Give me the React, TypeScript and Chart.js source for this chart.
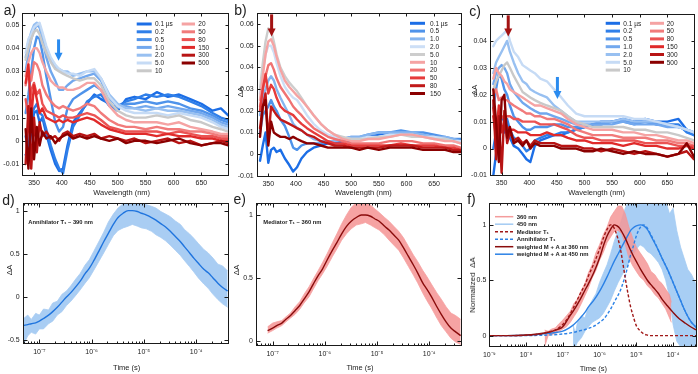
import React, { useEffect, useRef } from 'react';
import { Chart, registerables } from 'chart.js';

Chart.register(...registerables);

const FONT = "'Liberation Sans', Arial, Helvetica, sans-serif";

// ---------------- spectra data (panels a, b, c) ----------------
const WL = [335, 340, 345, 350, 355, 360, 365, 372, 380, 388, 395, 402, 410, 420, 432, 445, 458, 470, 485, 500, 515, 530, 550, 570, 590, 610, 630, 650, 670, 685, 698];
const WL_TICKS = [350, 400, 450, 500, 550, 600, 650];

const A_LABELS = ['0.1 µs', '0.2', '0.5', '1.0', '2.0', '5.0', '10', '20', '50', '80', '150', '300', '500'];
const a01 = [-0.006, -0.008, 0.004, 0.012, 0.013, 0.008, 0.010, 0.003, -0.004, -0.010, -0.013, -0.012, -0.002, 0.008, 0.012, 0.016, 0.020, 0.018, 0.016, 0.013, 0.018, 0.019, 0.018, 0.021, 0.019, 0.020, 0.018, 0.016, 0.013, 0.014, 0.011];
const a02 = [0.002, -0.004, 0.010, 0.014, 0.016, 0.012, 0.011, 0.005, -0.002, -0.008, -0.012, -0.014, -0.004, 0.006, 0.011, 0.017, 0.019, 0.020, 0.015, 0.015, 0.017, 0.018, 0.020, 0.019, 0.020, 0.019, 0.017, 0.015, 0.012, 0.010, 0.009];
const a05 = [0.012, 0.020, 0.030, 0.040, 0.045, 0.044, 0.038, 0.028, 0.018, 0.008, 0.004, 0.006, 0.014, 0.018, 0.020, 0.022, 0.024, 0.022, 0.016, 0.014, 0.016, 0.016, 0.017, 0.016, 0.017, 0.016, 0.014, 0.013, 0.011, 0.009, 0.008];
const a1 = [0.030, 0.038, 0.044, 0.048, 0.050, 0.049, 0.044, 0.036, 0.030, 0.026, 0.022, 0.022, 0.024, 0.026, 0.027, 0.028, 0.029, 0.026, 0.018, 0.015, 0.015, 0.014, 0.015, 0.014, 0.015, 0.014, 0.013, 0.012, 0.010, 0.008, 0.007];
const a2 = [0.036, 0.043, 0.047, 0.050, 0.051, 0.050, 0.046, 0.040, 0.035, 0.032, 0.031, 0.030, 0.030, 0.028, 0.029, 0.030, 0.030, 0.027, 0.020, 0.016, 0.014, 0.014, 0.013, 0.014, 0.013, 0.013, 0.012, 0.011, 0.009, 0.007, 0.006];
const a5 = [0.038, 0.044, 0.046, 0.049, 0.050, 0.051, 0.047, 0.041, 0.036, 0.033, 0.031, 0.030, 0.029, 0.029, 0.028, 0.030, 0.031, 0.027, 0.019, 0.015, 0.013, 0.012, 0.012, 0.012, 0.011, 0.012, 0.011, 0.010, 0.008, 0.006, 0.005];
const a10 = [0.035, 0.040, 0.044, 0.047, 0.048, 0.046, 0.042, 0.038, 0.034, 0.031, 0.030, 0.029, 0.028, 0.027, 0.026, 0.027, 0.027, 0.024, 0.017, 0.013, 0.011, 0.010, 0.010, 0.011, 0.010, 0.011, 0.009, 0.008, 0.006, 0.005, 0.004];
const a20 = [0.028, 0.034, 0.038, 0.040, 0.040, 0.038, 0.034, 0.030, 0.026, 0.024, 0.023, 0.023, 0.022, 0.022, 0.023, 0.025, 0.025, 0.022, 0.015, 0.011, 0.009, 0.008, 0.008, 0.008, 0.007, 0.008, 0.006, 0.005, 0.004, 0.003, 0.003];
const a50 = [0.024, 0.030, 0.026, 0.034, 0.033, 0.030, 0.024, 0.020, 0.017, 0.015, 0.014, 0.015, 0.014, 0.013, 0.014, 0.016, 0.015, 0.012, 0.009, 0.007, 0.006, 0.006, 0.005, 0.006, 0.005, 0.005, 0.004, 0.004, 0.003, 0.002, 0.002];
const a80 = [0.018, 0.010, 0.022, 0.025, 0.020, 0.022, 0.016, 0.013, 0.012, 0.011, 0.010, 0.011, 0.010, 0.010, 0.011, 0.012, 0.011, 0.009, 0.006, 0.005, 0.004, 0.004, 0.004, 0.004, 0.003, 0.004, 0.003, 0.002, 0.002, 0.001, 0.001];
const a150 = [0.025, 0.033, 0.010, 0.024, 0.018, 0.012, 0.014, 0.010, 0.009, 0.008, 0.009, 0.008, 0.009, 0.008, 0.009, 0.010, 0.009, 0.007, 0.005, 0.004, 0.003, 0.003, 0.003, 0.002, 0.003, 0.002, 0.002, 0.001, 0.001, 0.000, 0.000];
const a300 = [-0.010, 0.015, -0.012, 0.010, -0.005, 0.008, 0.002, 0.004, 0.001, 0.002, 0.000, 0.003, 0.004, 0.002, 0.003, 0.002, 0.003, 0.001, 0.002, 0.001, 0.000, 0.001, -0.001, 0.000, 0.001, -0.001, 0.000, -0.002, -0.001, 0.000, -0.001];
const a500 = [0.005, -0.012, 0.014, -0.008, 0.006, -0.002, 0.004, 0.001, 0.002, -0.001, 0.001, 0.002, 0.003, 0.001, 0.002, 0.001, 0.002, 0.001, 0.000, 0.001, -0.001, 0.000, 0.000, -0.001, 0.000, 0.001, -0.001, -0.002, -0.001, -0.001, -0.002];

const B_LABELS = ['0.1 µs', '0.5', '1.0', '2.0', '5.0', '10', '20', '50', '80', '150'];
const b01 = [-0.003, 0.004, 0.010, -0.004, 0.002, 0.003, 0.001, 0.002, -0.002, -0.005, -0.008, -0.006, -0.002, 0.001, 0.003, 0.004, 0.005, 0.005, 0.006, 0.006, 0.007, 0.008, 0.009, 0.010, 0.010, 0.009, 0.008, 0.008, 0.007, 0.006, 0.006];
const b05 = [0.010, 0.018, 0.020, 0.022, 0.025, 0.022, 0.020, 0.016, 0.013, 0.008, 0.003, 0.002, 0.004, 0.005, 0.005, 0.005, 0.006, 0.006, 0.007, 0.008, 0.008, 0.009, 0.010, 0.010, 0.011, 0.010, 0.010, 0.009, 0.008, 0.007, 0.007];
const b1 = [0.018, 0.026, 0.030, 0.034, 0.036, 0.034, 0.030, 0.026, 0.022, 0.018, 0.014, 0.012, 0.011, 0.009, 0.007, 0.006, 0.006, 0.006, 0.007, 0.008, 0.008, 0.009, 0.010, 0.010, 0.010, 0.010, 0.009, 0.008, 0.008, 0.007, 0.006];
const b2 = [0.028, 0.038, 0.046, 0.050, 0.050, 0.047, 0.042, 0.036, 0.031, 0.028, 0.026, 0.025, 0.022, 0.018, 0.014, 0.011, 0.009, 0.008, 0.007, 0.007, 0.007, 0.008, 0.008, 0.009, 0.009, 0.009, 0.008, 0.008, 0.007, 0.006, 0.006];
const b5 = [0.030, 0.042, 0.052, 0.058, 0.057, 0.052, 0.046, 0.040, 0.036, 0.033, 0.031, 0.029, 0.026, 0.022, 0.018, 0.014, 0.011, 0.009, 0.008, 0.007, 0.007, 0.007, 0.008, 0.008, 0.009, 0.008, 0.008, 0.007, 0.007, 0.006, 0.005];
const b10 = [0.025, 0.036, 0.046, 0.052, 0.053, 0.050, 0.045, 0.039, 0.034, 0.031, 0.029, 0.027, 0.025, 0.022, 0.018, 0.014, 0.011, 0.009, 0.007, 0.006, 0.006, 0.007, 0.007, 0.008, 0.009, 0.009, 0.008, 0.007, 0.006, 0.006, 0.005];
const b20 = [0.022, 0.030, 0.036, 0.041, 0.042, 0.039, 0.035, 0.031, 0.028, 0.025, 0.022, 0.020, 0.018, 0.015, 0.012, 0.010, 0.008, 0.007, 0.006, 0.005, 0.005, 0.005, 0.005, 0.006, 0.006, 0.006, 0.005, 0.005, 0.004, 0.004, 0.003];
const b50 = [0.020, 0.030, 0.037, 0.028, 0.032, 0.030, 0.026, 0.022, 0.020, 0.019, 0.018, 0.016, 0.014, 0.012, 0.010, 0.008, 0.006, 0.005, 0.005, 0.004, 0.004, 0.004, 0.004, 0.004, 0.005, 0.004, 0.004, 0.004, 0.003, 0.003, 0.002];
const b80 = [0.012, 0.022, 0.028, 0.006, 0.022, 0.020, 0.018, 0.016, 0.015, 0.014, 0.013, 0.012, 0.011, 0.009, 0.008, 0.006, 0.005, 0.004, 0.004, 0.003, 0.003, 0.003, 0.003, 0.004, 0.004, 0.004, 0.003, 0.003, 0.003, 0.002, 0.002];
const b150 = [0.008, 0.022, 0.025, 0.004, 0.015, 0.010, 0.009, 0.008, 0.008, 0.007, 0.008, 0.007, 0.006, 0.005, 0.005, 0.004, 0.003, 0.003, 0.003, 0.003, 0.002, 0.003, 0.002, 0.003, 0.003, 0.003, 0.002, 0.002, 0.002, 0.001, 0.001];

const C_LABELS = ['0.1 µs', '0.2', '0.5', '1.0', '2.0', '5.0', '10', '20', '50', '80', '150', '300', '500'];
const c01 = [-0.010, -0.002, 0.005, 0.008, 0.006, 0.009, 0.004, 0.001, 0.000, -0.002, -0.004, -0.005, 0.001, 0.003, 0.004, 0.005, 0.005, 0.006, 0.007, 0.008, 0.009, 0.010, 0.010, 0.011, 0.010, 0.011, 0.010, 0.010, 0.011, 0.007, 0.005];
const c02 = [0.000, 0.006, 0.010, 0.012, 0.010, 0.011, 0.007, 0.004, 0.003, 0.001, -0.001, 0.000, 0.003, 0.004, 0.005, 0.005, 0.006, 0.006, 0.007, 0.008, 0.009, 0.009, 0.010, 0.010, 0.010, 0.010, 0.009, 0.009, 0.009, 0.006, 0.005];
const c05 = [0.015, 0.022, 0.028, 0.026, 0.022, 0.020, 0.016, 0.012, 0.010, 0.008, 0.007, 0.007, 0.008, 0.008, 0.008, 0.009, 0.009, 0.008, 0.008, 0.008, 0.009, 0.009, 0.010, 0.010, 0.009, 0.010, 0.009, 0.009, 0.008, 0.007, 0.006];
const c1 = [0.024, 0.028, 0.030, 0.031, 0.030, 0.028, 0.024, 0.021, 0.019, 0.017, 0.016, 0.015, 0.014, 0.013, 0.013, 0.012, 0.011, 0.010, 0.009, 0.009, 0.009, 0.009, 0.009, 0.010, 0.009, 0.009, 0.009, 0.008, 0.008, 0.007, 0.006];
const c2 = [0.028, 0.032, 0.034, 0.036, 0.038, 0.040, 0.036, 0.032, 0.028, 0.025, 0.024, 0.022, 0.021, 0.020, 0.019, 0.016, 0.014, 0.012, 0.010, 0.010, 0.010, 0.010, 0.010, 0.011, 0.010, 0.010, 0.010, 0.009, 0.008, 0.007, 0.006];
const c5 = [0.038, 0.040, 0.041, 0.042, 0.043, 0.044, 0.040, 0.036, 0.034, 0.031, 0.030, 0.029, 0.028, 0.026, 0.025, 0.022, 0.019, 0.016, 0.013, 0.012, 0.012, 0.012, 0.012, 0.012, 0.011, 0.011, 0.010, 0.009, 0.008, 0.007, 0.006];
const c10 = [0.022, 0.025, 0.027, 0.029, 0.031, 0.032, 0.030, 0.027, 0.024, 0.021, 0.020, 0.019, 0.018, 0.017, 0.016, 0.015, 0.014, 0.012, 0.010, 0.009, 0.008, 0.008, 0.008, 0.008, 0.007, 0.007, 0.006, 0.006, 0.005, 0.004, 0.003];
const c20 = [0.026, 0.030, 0.028, 0.027, 0.025, 0.024, 0.022, 0.021, 0.020, 0.019, 0.018, 0.017, 0.016, 0.016, 0.015, 0.014, 0.013, 0.011, 0.009, 0.008, 0.007, 0.007, 0.007, 0.006, 0.006, 0.005, 0.005, 0.004, 0.003, 0.003, 0.002];
const c50 = [0.020, 0.022, 0.018, 0.019, 0.018, 0.018, 0.017, 0.016, 0.015, 0.014, 0.013, 0.013, 0.012, 0.012, 0.011, 0.011, 0.010, 0.009, 0.007, 0.006, 0.005, 0.005, 0.005, 0.004, 0.004, 0.004, 0.003, 0.003, 0.002, 0.002, 0.001];
const c80 = [0.015, 0.008, 0.014, 0.012, 0.011, 0.012, 0.012, 0.011, 0.011, 0.010, 0.010, 0.010, 0.010, 0.009, 0.009, 0.009, 0.008, 0.007, 0.005, 0.004, 0.004, 0.003, 0.003, 0.003, 0.003, 0.002, 0.002, 0.002, 0.001, 0.001, 0.001];
const c150 = [0.012, 0.004, 0.016, 0.006, 0.010, 0.008, 0.007, 0.007, 0.006, 0.006, 0.006, 0.005, 0.005, 0.005, 0.006, 0.005, 0.005, 0.004, 0.003, 0.003, 0.002, 0.002, 0.002, 0.001, 0.002, 0.001, 0.001, 0.000, 0.000, 0.001, 0.000];
const c300 = [0.018, -0.004, 0.012, -0.009, 0.014, 0.002, 0.006, 0.003, 0.004, 0.002, 0.003, 0.001, 0.003, 0.002, 0.002, 0.002, 0.001, 0.001, 0.001, 0.000, 0.000, -0.001, 0.000, -0.001, -0.002, -0.001, -0.002, -0.003, -0.002, -0.001, -0.004];
const c500 = [0.022, 0.010, -0.005, 0.018, 0.020, 0.004, 0.008, 0.002, 0.003, 0.001, 0.003, 0.000, 0.002, 0.001, 0.001, 0.001, 0.000, 0.000, 0.000, -0.001, -0.001, 0.000, -0.001, -0.002, -0.001, -0.002, -0.002, -0.003, -0.002, 0.002, -0.003];

// ---------------- kinetics data (panels d, e, f) ----------------
const dTimes = [5e-8, 6e-8, 7e-8, 8.5e-8, 1e-7, 1.2e-7, 1.5e-7, 1.8e-7, 2.2e-7, 2.7e-7, 3.3e-7, 4e-7, 5e-7, 6e-7, 7.5e-7, 9e-7, 1.1e-6, 1.4e-6, 1.7e-6, 2.1e-6, 2.6e-6, 3.2e-6, 4e-6, 5e-6, 6e-6, 7.5e-6, 9e-6, 1.1e-5, 1.4e-5, 1.7e-5, 2.1e-5, 2.6e-5, 3.2e-5, 4e-5, 5e-5, 6e-5, 7.5e-5, 9e-5, 1.1e-4, 1.4e-4, 1.7e-4, 2.1e-4, 2.6e-4, 3.2e-4, 4e-4];
const dFit = [-0.33, -0.32, -0.31, -0.30, -0.28, -0.25, -0.21, -0.17, -0.12, -0.06, 0.00, 0.05, 0.12, 0.18, 0.27, 0.33, 0.42, 0.54, 0.64, 0.74, 0.84, 0.92, 0.97, 1.00, 1.00, 0.99, 0.97, 0.95, 0.92, 0.89, 0.85, 0.81, 0.76, 0.70, 0.64, 0.58, 0.51, 0.45, 0.39, 0.32, 0.28, 0.22, 0.16, 0.11, 0.07];
const dHigh = [-0.25, -0.21, -0.26, -0.19, -0.21, -0.14, -0.15, -0.07, -0.05, 0.03, 0.07, 0.13, 0.21, 0.27, 0.37, 0.43, 0.53, 0.65, 0.75, 0.87, 0.96, 1.03, 1.08, 1.10, 1.10, 1.09, 1.08, 1.07, 1.05, 1.03, 0.99, 0.96, 0.93, 0.88, 0.84, 0.78, 0.73, 0.68, 0.62, 0.55, 0.51, 0.45, 0.38, 0.36, 0.30];
const dLow = [-0.55, -0.45, -0.41, -0.43, -0.37, -0.37, -0.31, -0.28, -0.21, -0.17, -0.10, -0.05, 0.02, 0.08, 0.16, 0.22, 0.31, 0.42, 0.51, 0.61, 0.71, 0.77, 0.80, 0.82, 0.84, 0.82, 0.80, 0.79, 0.76, 0.72, 0.69, 0.65, 0.60, 0.54, 0.48, 0.42, 0.35, 0.29, 0.22, 0.15, 0.10, 0.03, -0.03, -0.08, -0.12];

const eTimes = [8e-8, 1e-7, 1.2e-7, 1.5e-7, 1.8e-7, 2.2e-7, 2.7e-7, 3.3e-7, 4e-7, 5e-7, 6e-7, 7.5e-7, 9e-7, 1.1e-6, 1.4e-6, 1.7e-6, 2.1e-6, 2.6e-6, 3.2e-6, 4e-6, 5e-6, 6e-6, 7.5e-6, 9e-6, 1.1e-5, 1.4e-5, 1.7e-5, 2.1e-5, 2.6e-5, 3.2e-5, 4e-5, 5e-5, 6e-5, 7.5e-5, 9e-5, 1.1e-4, 1.4e-4, 1.7e-4, 2.1e-4, 2.6e-4, 3.2e-4, 4e-4];
const eFit = [0.08, 0.10, 0.12, 0.14, 0.17, 0.20, 0.24, 0.28, 0.33, 0.39, 0.45, 0.52, 0.57, 0.64, 0.72, 0.78, 0.85, 0.91, 0.95, 0.98, 1.00, 1.00, 0.99, 0.97, 0.95, 0.91, 0.88, 0.84, 0.80, 0.74, 0.67, 0.60, 0.54, 0.46, 0.41, 0.35, 0.27, 0.21, 0.15, 0.10, 0.07, 0.04];
const eHigh = [0.11, 0.14, 0.15, 0.16, 0.19, 0.22, 0.27, 0.31, 0.37, 0.43, 0.49, 0.56, 0.62, 0.69, 0.78, 0.85, 0.93, 1.00, 1.06, 1.10, 1.11, 1.10, 1.08, 1.05, 1.02, 0.98, 0.95, 0.91, 0.87, 0.82, 0.75, 0.68, 0.63, 0.56, 0.51, 0.45, 0.38, 0.33, 0.27, 0.22, 0.20, 0.17];
const eLow = [0.06, 0.08, 0.10, 0.12, 0.15, 0.18, 0.21, 0.25, 0.30, 0.35, 0.41, 0.48, 0.53, 0.59, 0.67, 0.73, 0.80, 0.85, 0.89, 0.92, 0.93, 0.94, 0.92, 0.90, 0.88, 0.84, 0.80, 0.76, 0.72, 0.66, 0.59, 0.52, 0.46, 0.38, 0.32, 0.26, 0.18, 0.12, 0.07, 0.02, -0.01, -0.03];

const fTimes = [1e-9, 3e-9, 1e-8, 2e-8, 4e-8, 7e-8, 1e-7, 1.5e-7, 2e-7, 3e-7, 4e-7, 5e-7, 7e-7, 1e-6, 1.3e-6, 1.6e-6, 2e-6, 2.5e-6, 3e-6, 3.5e-6, 4e-6, 5e-6, 6e-6, 7e-6, 8e-6, 1e-5, 1.3e-5, 1.6e-5, 2e-5, 2.5e-5, 3e-5, 4e-5, 5e-5, 7e-5, 1e-4, 1.5e-4, 2e-4, 3e-4, 4.4e-4];
const fMediator = [0, 0, 0.003, 0.01, 0.03, 0.06, 0.10, 0.18, 0.26, 0.38, 0.46, 0.54, 0.65, 0.78, 0.89, 0.96, 1.00, 0.97, 0.90, 0.82, 0.72, 0.52, 0.37, 0.26, 0.19, 0.09, 0.04, 0.015, 0.005, 0, 0, 0, 0, 0, 0, 0, 0, 0, 0];
const fWeighted360 = [0, 0, 0.005, 0.015, 0.03, 0.055, 0.08, 0.17, 0.23, 0.33, 0.41, 0.47, 0.57, 0.70, 0.82, 0.90, 0.96, 1.00, 0.99, 0.97, 0.94, 0.88, 0.82, 0.77, 0.73, 0.67, 0.60, 0.55, 0.50, 0.46, 0.43, 0.38, 0.33, 0.27, 0.21, 0.15, 0.12, 0.08, 0.05];
const fAnnihilator = [0, 0, 0, 0.002, 0.005, 0.01, 0.015, 0.022, 0.03, 0.045, 0.055, 0.065, 0.085, 0.12, 0.15, 0.19, 0.24, 0.30, 0.35, 0.39, 0.44, 0.54, 0.64, 0.73, 0.79, 0.90, 0.98, 1.00, 0.97, 0.91, 0.86, 0.77, 0.70, 0.60, 0.48, 0.34, 0.24, 0.13, 0.07];
const fWeighted450 = [0, 0, 0.004, 0.01, 0.02, 0.03, 0.04, 0.07, 0.10, 0.16, 0.21, 0.26, 0.32, 0.40, 0.47, 0.53, 0.60, 0.67, 0.72, 0.76, 0.80, 0.86, 0.91, 0.95, 0.97, 0.99, 1.00, 0.99, 0.96, 0.90, 0.85, 0.77, 0.70, 0.60, 0.48, 0.34, 0.24, 0.13, 0.07];

const f360Times = [3.2e-8, 4e-8, 5e-8, 6.3e-8, 8e-8, 1e-7, 1.26e-7, 1.6e-7, 2e-7, 2.5e-7, 3.2e-7, 4e-7, 5e-7, 6.3e-7, 8e-7, 1e-6, 1.26e-6, 1.6e-6, 2e-6, 2.5e-6, 3.2e-6, 4e-6, 5e-6, 6.3e-6, 8e-6, 1e-5, 1.26e-5, 1.6e-5, 2e-5, 2.5e-5, 3.2e-5, 4e-5, 5e-5, 6.3e-5, 8e-5, 9e-5];
const f360High = [0.05, 0.04, 0.06, 0.07, 0.11, 0.14, 0.18, 0.22, 0.29, 0.33, 0.41, 0.47, 0.57, 0.64, 0.75, 0.82, 0.91, 0.98, 1.07, 1.12, 1.17, 1.17, 1.10, 0.98, 0.88, 0.80, 0.75, 0.70, 0.65, 0.58, 0.55, 0.50, 0.47, 0.42, 0.37, 0.30];
const f360Low = [-0.10, 0.00, 0.01, 0.02, 0.04, 0.06, 0.08, 0.12, 0.17, 0.22, 0.29, 0.36, 0.43, 0.52, 0.59, 0.68, 0.75, 0.84, 0.89, 0.94, 0.95, 0.92, 0.82, 0.70, 0.63, 0.58, 0.53, 0.50, 0.45, 0.42, 0.37, 0.34, 0.29, 0.24, 0.16, 0.12];

const f450Times = [1.9e-7, 2.2e-7, 2.5e-7, 3.2e-7, 4e-7, 5e-7, 6.3e-7, 8e-7, 1e-6, 1.26e-6, 1.6e-6, 2e-6, 2.5e-6, 3.2e-6, 4e-6, 5e-6, 6.3e-6, 8e-6, 1e-5, 1.26e-5, 1.6e-5, 2e-5, 2.5e-5, 3.2e-5, 4e-5, 5e-5, 6.3e-5, 8e-5, 1e-4, 1.26e-4, 1.6e-4, 2e-4, 2.5e-4, 3.2e-4, 4.4e-4];
const f450High = [0.10, 0.02, 0.12, 0.18, 0.16, 0.26, 0.32, 0.38, 0.48, 0.56, 0.64, 0.74, 0.85, 0.95, 1.05, 1.15, 1.22, 1.25, 1.25, 1.25, 1.25, 1.25, 1.25, 1.25, 1.25, 1.25, 1.22, 1.10, 1.15, 0.95, 0.80, 0.70, 0.60, 0.55, 0.45];
const f450Low = [-0.10, -0.10, -0.06, -0.02, 0.04, 0.08, 0.12, 0.14, 0.16, 0.20, 0.26, 0.32, 0.40, 0.48, 0.54, 0.60, 0.66, 0.72, 0.78, 0.82, 0.80, 0.76, 0.74, 0.70, 0.66, 0.60, 0.50, 0.35, 0.10, -0.05, -0.10, -0.12, -0.12, -0.12, -0.12];

// ---------------- colours ----------------
const A_COLORS = ['#1c6ee6', '#2f7fe9', '#4f93ea', '#72a8ee', '#98c0f1', '#c6dbf5', '#c9c9c9', '#f5a3a3', '#f17b7b', '#eb5353', '#e02a2a', '#b81414', '#8b0000'];
const B_COLORS = ['#1c6ee6', '#4f93ea', '#86b5ef', '#cddff6', '#cdcdcd', '#f5a3a3', '#f07272', '#e63b3b', '#c11919', '#8b0000'];
const BLUE_ARROW = '#2a8bef';
const RED_ARROW = '#a31212';

// ---------------- helpers ----------------
const SUP: Record<string, string> = { '-': '⁻', '0': '⁰', '1': '¹', '2': '²', '3': '³', '4': '⁴', '5': '⁵', '6': '⁶', '7': '⁷', '8': '⁸', '9': '⁹' };
const pow10Label = (v: number) => {
  const e = Math.round(Math.log10(v));
  return '10' + String(e).split('').map((c) => SUP[c]).join('');
};
const fmtVal = (v: number) => {
  const r = Math.round(v * 1000) / 1000;
  return r === 0 ? '0' : String(r);
};
const logTicks = (min: number, max: number) => {
  const out: { v: number; len: number }[] = [];
  for (let e = Math.floor(Math.log10(min)); e <= Math.ceil(Math.log10(max)); e++) {
    for (let k = 1; k <= 9; k++) {
      const v = k * Math.pow(10, e);
      if (v >= min && v <= max) out.push({ v, len: k === 1 ? 4 : 2 });
    }
  }
  return out;
};
const pts = (xs: number[], ys: number[]) => xs.map((x, i) => ({ x, y: ys[i] }));

function makeDecor(cfg: any) {
  return {
    id: 'decor',
    afterDraw(chart: any) {
      const { ctx, chartArea: ca, scales } = chart;
      const xs = scales.x;
      const ys = scales.y;
      ctx.save();
      // arrows
      for (const a of cfg.arrows || []) {
        const px = xs.getPixelForValue(a.x);
        const p1 = ys.getPixelForValue(a.y1);
        const p2 = ys.getPixelForValue(a.y2);
        const hl = 8, hw = 4, sw = 3;
        ctx.fillStyle = a.color;
        ctx.fillRect(px - sw / 2, p1, sw, p2 - hl - p1 + 1);
        ctx.beginPath();
        ctx.moveTo(px - hw, p2 - hl);
        ctx.lineTo(px + hw, p2 - hl);
        ctx.lineTo(px, p2);
        ctx.closePath();
        ctx.fill();
      }
      // frame and inward ticks
      const L = Math.round(ca.left) + 0.5;
      const R = Math.round(ca.right) - 0.5;
      const T = Math.round(ca.top) + 0.5;
      const B = Math.round(ca.bottom) - 0.5;
      ctx.strokeStyle = '#1a1a1a';
      ctx.lineWidth = 1;
      ctx.setLineDash([]);
      ctx.strokeRect(L, T, R - L, B - T);
      ctx.beginPath();
      for (const t of cfg.xTicks) {
        const px = Math.round(xs.getPixelForValue(t.v)) + 0.5;
        if (px < L - 0.1 || px > R + 0.1) continue;
        ctx.moveTo(px, B);
        ctx.lineTo(px, B - t.len);
        ctx.moveTo(px, T);
        ctx.lineTo(px, T + t.len);
      }
      for (const t of cfg.yTicks) {
        const py = Math.round(ys.getPixelForValue(t.v)) + 0.5;
        if (py < T - 0.1 || py > B + 0.1) continue;
        ctx.moveTo(L, py);
        ctx.lineTo(L + t.len, py);
        ctx.moveTo(R, py);
        ctx.lineTo(R - t.len, py);
      }
      ctx.stroke();
      // legend columns
      for (const col of cfg.legend || []) {
        col.items.forEach((it: any, i: number) => {
          const y = col.y0 + i * col.dy;
          ctx.strokeStyle = it.color;
          ctx.lineWidth = it.width;
          ctx.setLineDash(it.dash || []);
          ctx.lineCap = 'butt';
          ctx.beginPath();
          ctx.moveTo(col.x0, y);
          ctx.lineTo(col.x1, y);
          ctx.stroke();
          ctx.setLineDash([]);
          ctx.fillStyle = '#222';
          ctx.font = col.font;
          ctx.textBaseline = 'middle';
          ctx.textAlign = 'left';
          ctx.fillText(it.label, col.tx, y + 0.5);
        });
      }
      // notes
      for (const n of cfg.notes || []) {
        ctx.fillStyle = '#222';
        ctx.font = n.font;
        ctx.textBaseline = 'middle';
        ctx.textAlign = 'left';
        ctx.fillText(n.text, n.x, n.y);
      }
      ctx.restore();
    },
  };
}

const tickFont = { family: FONT, size: 7 };

function baseOptions(W: number, H: number, area: any, xScale: any, yScale: any) {
  return {
    responsive: false,
    maintainAspectRatio: false,
    animation: false,
    devicePixelRatio: 1,
    events: [],
    layout: { autoPadding: false, padding: { left: 0, top: area.t, right: W - area.r, bottom: 0 } },
    plugins: { legend: { display: false }, tooltip: { enabled: false }, title: { display: false } },
    scales: {
      x: {
        ...xScale,
        afterFit: (s: any) => { s.height = H - area.b; },
        grid: { display: false, drawTicks: false },
        border: { display: false },
      },
      y: {
        ...yScale,
        afterFit: (s: any) => { s.width = area.l; },
        grid: { display: false, drawTicks: false },
        border: { display: false },
      },
    },
  };
}

function linearY(min: number, max: number, ticks: number[]) {
  return {
    type: 'linear',
    min,
    max,
    afterBuildTicks: (s: any) => { s.ticks = ticks.map((v) => ({ value: v })); },
    ticks: { font: tickFont, color: '#222', padding: 3, autoSkip: false, callback: (v: any) => fmtVal(Number(v)) },
  };
}

function spectraConfig(p: any) {
  const n = p.series.length;
  const datasets = p.series.map((s: number[], i: number) => ({
    label: p.labels[i],
    data: pts(WL, s),
    borderColor: p.colors[i],
    backgroundColor: p.colors[i],
    borderWidth: 2.4,
    pointRadius: 0,
    tension: 0,
    fill: false,
    borderJoinStyle: 'round',
    borderCapStyle: 'round',
    order: n - i,
  }));
  const xScale = {
    type: 'linear',
    min: 329,
    max: 700,
    afterBuildTicks: (s: any) => { s.ticks = WL_TICKS.map((v) => ({ value: v })); },
    ticks: { font: tickFont, color: '#222', padding: 3, maxRotation: 0, autoSkip: false, callback: (v: any) => String(v) },
  };
  const yScale = linearY(p.yMin, p.yMax, p.yTicks);
  return {
    type: 'line',
    data: { datasets },
    options: baseOptions(p.W, p.H, p.area, xScale, yScale),
    plugins: [
      makeDecor({
        xTicks: WL_TICKS.map((v) => ({ v, len: 3 })),
        yTicks: p.yTicks.map((v: number) => ({ v, len: 3 })),
        legend: p.legend,
        arrows: p.arrows,
      }),
    ],
  };
}

function kinConfig(p: any) {
  const xScale = {
    type: 'logarithmic',
    min: p.xMin,
    max: p.xMax,
    afterBuildTicks: (s: any) => { s.ticks = p.xMajors.map((v: number) => ({ value: v })); },
    ticks: { font: tickFont, color: '#222', padding: 4, maxRotation: 0, autoSkip: false, callback: (v: any) => pow10Label(Number(v)) },
  };
  const yScale = linearY(p.yMin, p.yMax, p.yTicks);
  return {
    type: 'line',
    data: { datasets: p.datasets },
    options: baseOptions(p.W, p.H, p.area, xScale, yScale),
    plugins: [
      makeDecor({
        xTicks: logTicks(p.xMin, p.xMax),
        yTicks: p.yTicks.map((v: number) => ({ v, len: 4 })),
        legend: p.legend,
        notes: p.notes,
      }),
    ],
  };
}

const bandPair = (xs: number[], hi: number[], lo: number[], color: string, order: number) => [
  { data: pts(xs, hi), borderColor: color, borderWidth: 0.8, pointRadius: 0, tension: 0, fill: false, order },
  { data: pts(xs, lo), borderColor: color, borderWidth: 0.8, pointRadius: 0, tension: 0, fill: '-1', backgroundColor: color, order },
];
const lineDs = (xs: number[], ys: number[], color: string, width: number, order: number, dash?: number[]) => ({
  data: pts(xs, ys),
  borderColor: color,
  borderWidth: width,
  borderDash: dash || [],
  pointRadius: 0,
  tension: 0.25,
  cubicInterpolationMode: 'monotone',
  fill: false,
  order,
});

// ---------------- configs ----------------
const LEG_FONT = `6.5px ${FONT}`;
const legendCol = (x0: number, x1: number, tx: number, y0: number, labels: string[], colors: string[]) => ({
  x0, x1, tx, y0, dy: 7.8, font: LEG_FONT,
  items: labels.map((label, i) => ({ label, color: colors[i], width: 3 })),
});

const cfgA = () => spectraConfig({
  series: [a01, a02, a05, a1, a2, a5, a10, a20, a50, a80, a150, a300, a500],
  labels: A_LABELS, colors: A_COLORS,
  W: 236, H: 190, area: { l: 22.3, t: 13, r: 229.3, b: 176 },
  yMin: -0.0152, yMax: 0.0552, yTicks: [-0.01, 0, 0.01, 0.02, 0.03, 0.04, 0.05],
  legend: [
    legendCol(136.7, 151.7, 155, 24, A_LABELS.slice(0, 7), A_COLORS.slice(0, 7)),
    legendCol(181.7, 195, 198.3, 24, A_LABELS.slice(7), A_COLORS.slice(7)),
  ],
  arrows: [{ x: 394, y1: 0.0438, y2: 0.0346, color: BLUE_ARROW }],
});

const cfgB = () => spectraConfig({
  series: [b01, b05, b1, b2, b5, b10, b20, b50, b80, b150],
  labels: B_LABELS, colors: B_COLORS,
  W: 236, H: 190, area: { l: 24.7, t: 13.3, r: 229.7, b: 176.5 },
  yMin: -0.0103, yMax: 0.065, yTicks: [-0.01, 0, 0.01, 0.02, 0.03, 0.04, 0.05, 0.06],
  legend: [legendCol(178, 193, 198, 23.3, B_LABELS, B_COLORS)],
  arrows: [{ x: 356, y1: 0.0645, y2: 0.0543, color: RED_ARROW }],
});

const cfgC = () => spectraConfig({
  series: [c01, c02, c05, c1, c2, c5, c10, c20, c50, c80, c150, c300, c500],
  labels: C_LABELS, colors: A_COLORS,
  W: 233, H: 190, area: { l: 25, t: 14, r: 230, b: 176 },
  yMin: -0.0102, yMax: 0.050, yTicks: [-0.01, 0, 0.01, 0.02, 0.03, 0.04],
  legend: [
    legendCol(140.7, 155, 158.3, 23.3, C_LABELS.slice(0, 7), A_COLORS.slice(0, 7)),
    legendCol(185, 199, 201.7, 23.3, C_LABELS.slice(7), A_COLORS.slice(7)),
  ],
  arrows: [
    { x: 362, y1: 0.0495, y2: 0.0416, color: RED_ARROW },
    { x: 451, y1: 0.0266, y2: 0.0184, color: BLUE_ARROW },
  ],
});

const NOTE_FONT = `bold 5.8px ${FONT}`;

const cfgD = () => kinConfig({
  W: 236, H: 179, area: { l: 22.7, t: 8.3, r: 229.3, b: 149 },
  xMin: 4.8e-8, xMax: 4.3e-4, xMajors: [1e-7, 1e-6, 1e-5, 1e-4],
  yMin: -0.545, yMax: 1.085, yTicks: [-0.5, 0, 0.5, 1],
  datasets: [
    ...bandPair(dTimes, dHigh, dLow, '#a9cdf3', 10),
    lineDs(dTimes, dFit, '#1f74de', 1.4, 1),
  ],
  notes: [{ text: 'Annihilator T₁ – 390 nm', x: 28.3, y: 27.3, font: NOTE_FONT }],
});

const cfgE = () => kinConfig({
  W: 236, H: 179, area: { l: 24, t: 8.3, r: 230.3, b: 150.7 },
  xMin: 4.8e-8, xMax: 4.3e-4, xMajors: [1e-7, 1e-6, 1e-5, 1e-4],
  yMin: -0.04, yMax: 1.093, yTicks: [0, 0.5, 1],
  datasets: [
    ...bandPair(eTimes, eHigh, eLow, '#f6a3a3', 10),
    lineDs(eTimes, eFit, '#8a0c0c', 1.4, 1),
  ],
  notes: [{ text: 'Mediator T₁ – 360 nm', x: 31.3, y: 27.3, font: NOTE_FONT }],
});

const F_LEG_FONT = `bold 5.9px ${FONT}`;
const cfgF = () => kinConfig({
  W: 233, H: 179, area: { l: 24.3, t: 7.7, r: 231.7, b: 151.7 },
  xMin: 1e-9, xMax: 4.4e-4, xMajors: [1e-9, 1e-8, 1e-7, 1e-6, 1e-5, 1e-4],
  yMin: -0.1, yMax: 1.2, yTicks: [0, 0.5, 1],
  datasets: [
    ...bandPair(f450Times, f450High, f450Low, 'rgba(163,203,243,0.95)', 20),
    ...bandPair(f360Times, f360High, f360Low, 'rgba(244,150,150,0.85)', 18),
    lineDs(fTimes, fWeighted450, '#2c82e6', 1.4, 4),
    lineDs(fTimes, fAnnihilator, '#2c82e6', 1.4, 3, [3, 2]),
    lineDs(fTimes, fWeighted360, '#8a0c0c', 1.4, 2),
    lineDs(fTimes, fMediator, '#a01818', 1.4, 1, [3, 2]),
  ],
  legend: [{
    x0: 30, x1: 48.3, tx: 51.7, y0: 21.7, dy: 7.5, font: F_LEG_FONT,
    items: [
      { label: '360 nm', color: '#f49c9c', width: 1.5 },
      { label: '450 nm', color: '#a3cbf3', width: 1.5 },
      { label: 'Mediator T₁', color: '#a01818', width: 1.5, dash: [3, 2] },
      { label: 'Annihilator T₁', color: '#2c82e6', width: 1.5, dash: [3, 2] },
      { label: 'weighted M + A at 360 nm', color: '#8a0c0c', width: 1.5 },
      { label: 'weighted M + A at 450 nm', color: '#2c82e6', width: 1.5 },
    ],
  }],
});

// ---------------- components ----------------
function ChartPanel({ x, y, w, h, build }: { x: number; y: number; w: number; h: number; build: () => any }) {
  const ref = useRef<HTMLCanvasElement | null>(null);
  useEffect(() => {
    if (!ref.current) return;
    const chart = new Chart(ref.current, build());
    return () => chart.destroy();
  }, []);
  return <canvas ref={ref} width={w} height={h} style={{ position: 'absolute', left: x, top: y, width: w, height: h }} />;
}

function Txt({ x, y, size, children, rotate }: { x: number; y: number; size: number; children: any; rotate?: boolean }) {
  return (
    <div
      style={{
        position: 'absolute', left: x, top: y, fontSize: size, lineHeight: 1, whiteSpace: 'pre', color: '#222',
        transform: `translate(-50%, -50%)${rotate ? ' rotate(-90deg)' : ''}`,
      }}
    >
      {children}
    </div>
  );
}

export default function App() {
  return (
    <div style={{ position: 'fixed', left: 0, top: 0, width: 698, height: 374, background: '#fff', overflow: 'hidden', fontFamily: FONT }}>
      <ChartPanel x={0} y={0} w={236} h={190} build={cfgA} />
      <ChartPanel x={232} y={0} w={236} h={190} build={cfgB} />
      <ChartPanel x={465} y={0} w={233} h={190} build={cfgC} />
      <ChartPanel x={0} y={195} w={236} h={179} build={cfgD} />
      <ChartPanel x={232} y={195} w={236} h={179} build={cfgE} />
      <ChartPanel x={465} y={195} w={233} h={179} build={cfgF} />

      <Txt x={10} y={10} size={14}>a)</Txt>
      <Txt x={240.5} y={10} size={14}>b)</Txt>
      <Txt x={475} y={11} size={14}>c)</Txt>
      <Txt x={8.5} y={199.5} size={14}>d)</Txt>
      <Txt x={239.7} y={199} size={14}>e)</Txt>
      <Txt x={471.5} y={199} size={14}>f)</Txt>

      <Txt x={121.7} y={192.7} size={7.5}>Wavelength (nm)</Txt>
      <Txt x={363.3} y={192.7} size={7.5}>Wavelength (nm)</Txt>
      <Txt x={596.7} y={192.7} size={7.5}>Wavelength (nm)</Txt>

      <Txt x={241} y={92} size={8} rotate>ΔA</Txt>
      <Txt x={475} y={90} size={8} rotate>ΔA</Txt>
      <Txt x={10} y={270} size={8} rotate>ΔA</Txt>
      <Txt x={237} y={270} size={8} rotate>ΔA</Txt>
      <Txt x={473.3} y={285} size={8} rotate>{'Normalized  ΔA'}</Txt>

      <Txt x={126.7} y={368} size={7.5}>Time (s)</Txt>
      <Txt x={360} y={368} size={7.5}>Time (s)</Txt>
      <Txt x={593.3} y={369} size={7.5}>Time (s)</Txt>
    </div>
  );
}
